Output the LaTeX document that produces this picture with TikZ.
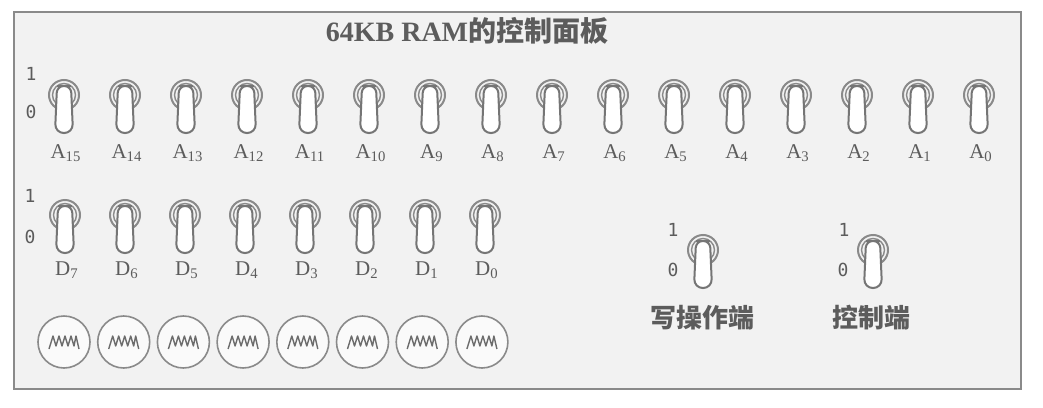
\documentclass[tikz,border=0pt]{standalone}
\usepackage{fontspec}
\setmainfont{Liberation Serif}
\setmonofont{DejaVu Sans Mono}
\newfontfamily\cjk{Noto Sans CJK SC}
\usepackage{tikz}
\usetikzlibrary{positioning}
\definecolor{panelbg}{HTML}{F2F2F2}
\definecolor{inkx}{HTML}{5C5C5C}
\definecolor{ringx}{HTML}{8A8A8A}
\tikzset{
  frm/.style={draw=ringx,line width=1.25pt,fill=panelbg},
  rng/.style={draw=ringx,line width=1pt},
  lev/.style={draw=ringx!85!black,fill=white,line width=1pt},
  bit/.style={font=\ttfamily\fontsize{9}{9}\selectfont,text=inkx,inner sep=0pt},
  lbl/.style={font=\fontsize{10.5}{10.5}\selectfont,text=inkx,inner sep=0pt},
  capt/.style={font=\cjk\bfseries\fontsize{13}{13}\selectfont,text=inkx,inner sep=0pt},
  lamp/.style={circle,draw=ringx,line width=0.8pt,fill=white!60!panelbg,minimum size=26pt,inner sep=0pt},
  fil/.style={draw=inkx!90,line width=0.7pt,line join=round},
  tgl/.pic={
    \draw[rng] (0,0) circle[radius=15];
    \draw[rng,line width=0.7pt] (0,0) circle[radius=11.5];
    \draw[lev] (0,-9) [rounded corners=3.4pt] -- (7,-9) [rounded corners=4.4pt] -- (9,38) -- (-9,38) [rounded corners=3.4pt] -- (-7,-9) -- cycle;
  }
}

\begin{document}
\begin{tikzpicture}[x=0.5pt,y=-0.5pt]
\useasboundingbox (0,0) rectangle (1043,407);
\draw[frm] (14,12) rectangle (1021,389);
\node[font=\bfseries\fontsize{14}{14}\selectfont,text=inkx,inner sep=0pt] (title) at (467,31) {64KB RAM{\cjk 的控制面板}};
% address switches
\node[bit] (a1) at (31,74) {1};
\node[bit] (a0) at (31,112) {0};
\foreach \i in {0,...,15}{
  \pgfmathtruncatemacro{\n}{15-\i}
  \pic at ({64+61*\i},95) {tgl};
  \node[lbl] (adr\n) at ({66+61*\i},153) {A\textsubscript{\n}};
}
% data switches
\node[bit] (d1) at (30,196) {1};
\node[bit] (d0) at (30,237) {0};
\foreach \i in {0,...,7}{
  \pgfmathtruncatemacro{\n}{7-\i}
  \pic at ({65+60*\i},215) {tgl};
  \node[lbl] (dat\n) at ({67+60*\i},270) {D\textsubscript{\n}};
}
% lamps
\foreach \i in {0,...,7}{
  \node[lamp] (lmp\i) at ({64+59.7*\i},342) {};
  \draw[fil,shift={(lmp\i.center)}] (-15,7) -- (-11,-6) -- (-8,4) -- (-5,-6) -- (-2,4) -- (1,-6) -- (4,4) -- (7,-6) -- (10,4) -- (12,-6) -- (15,7);
}
% write and control
\node[bit] (w1) at (673,230) {1};
\node[bit] (w0) at (673,270) {0};
\pic at (703,250) {tgl};
\node[capt] (wr) at (702,318) {写操作端};
\node[bit] (c1) at (844,230) {1};
\node[bit] (c0) at (843,270) {0};
\pic at (873,250) {tgl};
\node[capt] (ctl) at (871,318) {控制端};
\end{tikzpicture}
\end{document}
